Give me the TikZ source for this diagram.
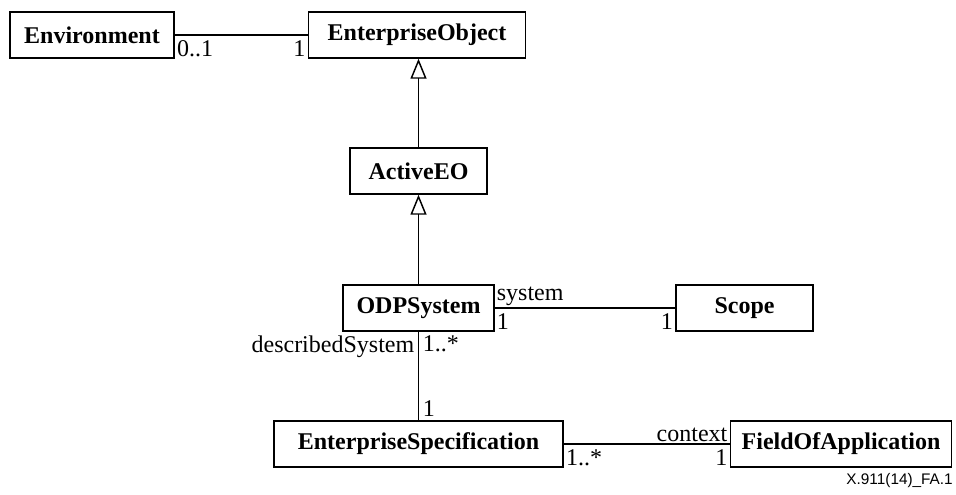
\documentclass[tikz,border=0pt]{standalone}
\usepackage{fontspec}
\setmainfont{Liberation Serif}
\newfontfamily\tagfont{Liberation Sans}
\usetikzlibrary{arrows.meta}

\begin{document}
\begin{tikzpicture}[x=0.75pt, y=-0.75pt,
	cls/.style={draw, line width=1.1pt, inner sep=0pt, minimum height=34.5pt, font=\bfseries},
	assoc/.style={line width=1.1pt},
	gen/.style={line width=1.1pt, -{Triangle[open, length=15pt, width=12pt, fill=white]}},
	role/.style={inner sep=1.5pt}]
	\fontsize{18}{20}\selectfont
	\useasboundingbox (0,0) rectangle (956,495);
	% classes
	\node[cls, minimum width=123pt] (env) at (92,35) {Environment};
	\node[cls, minimum width=163pt] (eo) at (417,35) {EnterpriseObject};
	\node[cls, minimum width=103pt] (aeo) at (418.5,171) {ActiveEO};
	\node[cls, minimum width=113pt] (odp) at (418.5,308) {ODPSystem};
	\node[cls, minimum width=103pt] (scope) at (744.5,308) {Scope};
	\node[cls, minimum width=217pt] (espec) at (418.5,444) {EnterpriseSpecification};
	\node[cls, minimum width=166pt] (foa) at (841,444) {FieldOfApplication};
	% generalisation
	\draw[gen] (aeo.north) -- (aeo.north |- eo.south);
	\draw[gen] (odp.north) -- (aeo.south);
	% associations
	\draw[assoc] (env) -- (eo);
	\draw[assoc] (odp) -- (scope);
	\draw[assoc] (odp.south) -- (espec.north);
	\draw[assoc] (espec) -- (foa);
	% ends
	\node[role, anchor=south west] (envm) at (env.south east) {0..1};
	\node[role, anchor=south east] (eom) at (eo.south west) {1};
	\node[role, anchor=south west] (sysr) at (odp.east) {system};
	\node[role, anchor=south west] (odpm) at (odp.south east) {1};
	\node[role, anchor=south east] (scopem) at (scope.south west) {1};
	\node[role, anchor=north east, inner sep=3pt] (dsr) at (odp.south) {describedSystem};
	\node[role, anchor=north west, inner sep=3pt] (dsm) at (odp.south) {1..*};
	\node[role, anchor=south west, inner sep=3pt] (espm) at (espec.north) {1};
	\node[role, anchor=south east] (ctxr) at (foa.west) {context};
	\node[role, anchor=south east] (foam) at (foa.south west) {1};
	\node[role, anchor=south west] (espm2) at (espec.south east) {1..*};
	\node[anchor=east, inner sep=0pt, font=\tagfont\fontsize{11.5}{13}\selectfont] (tag) at (953,481) {X.911(14)\_FA.1};
\end{tikzpicture}
\end{document}
